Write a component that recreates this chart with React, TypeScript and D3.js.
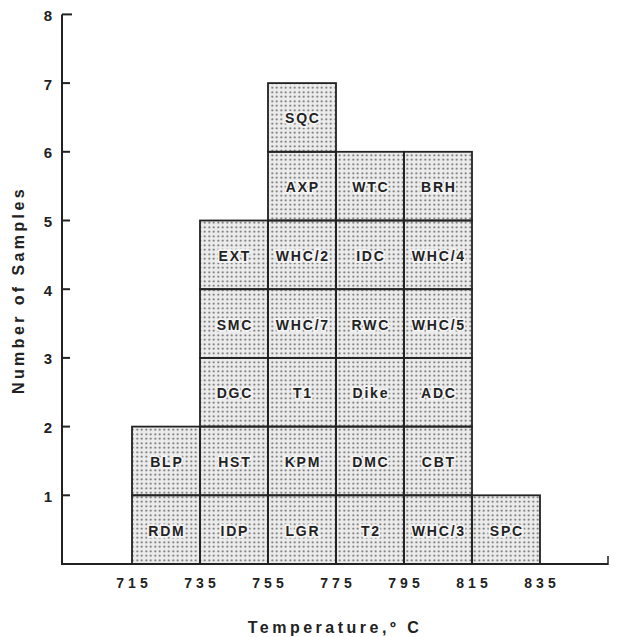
import React from "react";
import * as d3 from "d3";

const binStarts = [715, 735, 755, 775, 795, 815];
const binWidth = 20;
const columns: string[][] = [
  ["RDM", "BLP"],
  ["IDP", "HST", "DGC", "SMC", "EXT"],
  ["LGR", "KPM", "T1", "WHC/7", "WHC/2", "AXP", "SQC"],
  ["T2", "DMC", "Dike", "RWC", "IDC", "WTC"],
  ["WHC/3", "CBT", "ADC", "WHC/5", "WHC/4", "BRH"],
  ["SPC"],
];
const xTicks = [715, 735, 755, 775, 795, 815, 835];
const yTicks = [1, 2, 3, 4, 5, 6, 7, 8];

export default function App() {
  const W = 617, H = 637;
  const x = d3.scaleLinear().domain([715, 835]).range([132, 540]);
  const y = d3.scaleLinear().domain([0, 8]).range([564, 14.4]);
  const axisX0 = 62, axisX1 = 608;
  const font = "'Liberation Sans', Arial, Helvetica, sans-serif";
  const ink = "#222";

  const cells: { x0: number; x1: number; y0: number; y1: number; label: string }[] = [];
  columns.forEach((col, i) => {
    col.forEach((label, j) => {
      cells.push({
        x0: x(binStarts[i]),
        x1: x(binStarts[i] + binWidth),
        y0: y(j),
        y1: y(j + 1),
        label,
      });
    });
  });

  const cellLS = 1.8;
  const tickLS = 4;

  return (
    <svg width={W} height={H} style={{ position: "absolute", left: 0, top: 0, background: "#fff" }}>
      <defs>
        <pattern id="dots" width={4.5} height={4.5} patternUnits="userSpaceOnUse">
          <rect width={4.5} height={4.5} fill="#ececec" />
          <circle cx={2.25} cy={2.25} r={1} fill="#5a5a5a" />
        </pattern>
      </defs>
      {cells.map((c, i) => (
        <g key={i}>
          <rect x={c.x0} y={c.y1} width={c.x1 - c.x0} height={c.y0 - c.y1} fill="url(#dots)" />
          <text
            x={(c.x0 + c.x1) / 2 + cellLS / 2}
            y={(c.y0 + c.y1) / 2 + 1}
            textAnchor="middle"
            dominantBaseline="central"
            fontFamily={font}
            fontWeight="bold"
            fontSize={14}
            letterSpacing={cellLS}
            fill={ink}
            stroke="#f4f4f4"
            strokeWidth={3.5}
            paintOrder="stroke"
          >
            {c.label}
          </text>
        </g>
      ))}
      {cells.map((c, i) => (
        <rect key={"b" + i} x={c.x0} y={c.y1} width={c.x1 - c.x0} height={c.y0 - c.y1} fill="none" stroke={ink} strokeWidth={1.8} />
      ))}
      {/* axes */}
      <line x1={axisX0} x2={axisX0} y1={y(8)} y2={y(0) + 1} stroke={ink} strokeWidth={2} />
      <line x1={axisX0} x2={axisX1} y1={y(0)} y2={y(0)} stroke={ink} strokeWidth={2} />
      <line x1={axisX1} x2={axisX1} y1={y(0) + 1} y2={y(0) - 8} stroke={ink} strokeWidth={1.5} />
      {yTicks.map((t) => (
        <g key={t}>
          <line x1={axisX0} x2={axisX0 + (t === 8 ? 10 : 8)} y1={y(t)} y2={y(t)} stroke={ink} strokeWidth={2} />
          <text x={52} y={y(t) + 1} textAnchor="end" dominantBaseline="central" fontFamily={font} fontWeight="bold" fontSize={15} fill={ink}>
            {t}
          </text>
        </g>
      ))}
      {xTicks.map((t) => (
        <text key={t} x={x(t) + tickLS / 2} y={588} textAnchor="middle" fontFamily={font} fontWeight="bold" fontSize={14} letterSpacing={tickLS} fill={ink}>
          {t}
        </text>
      ))}
      <text x={335} y={633} textAnchor="middle" fontFamily={font} fontWeight="bold" fontSize={16} letterSpacing={3.5} fill={ink}>
        Temperature,º C
      </text>
      <text
        transform={`translate(24,${290}) rotate(-90)`}
        textAnchor="middle"
        fontFamily={font}
        fontWeight="bold"
        fontSize={16}
        letterSpacing={3.4}
        fill={ink}
      >
        Number of Samples
      </text>
    </svg>
  );
}
